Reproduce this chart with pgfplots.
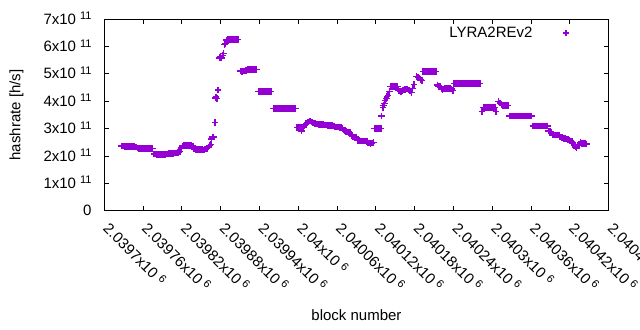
\documentclass[border=0pt]{standalone}
\usepackage{fontspec}
\setmainfont{Liberation Sans}
\usepackage{pgfplots}
\pgfplotsset{compat=1.18}
\usepackage{pgfplotstable}
\definecolor{dv}{HTML}{9400D3}
\newcommand{\sci}[2]{#1x10\hspace{4bp}\raisebox{4.5bp}{\fontsize{11bp}{11bp}\selectfont #2}}
\pgfplotstableread{
x y
2039727 2.36
2039729 2.36
2039731 2.35
2039733 2.34
2039735 2.34
2039737 2.34
2039739 2.34
2039741 2.34
2039743 2.34
2039745 2.34
2039747 2.34
2039749 2.33
2039751 2.29
2039753 2.28
2039755 2.28
2039757 2.28
2039759 2.28
2039761 2.28
2039763 2.28
2039765 2.28
2039767 2.28
2039769 2.28
2039771 2.28
2039773 2.28
2039775 2.28
2039777 2.08
2039779 2.07
2039781 2.06
2039783 2.06
2039785 2.05
2039787 2.05
2039789 2.05
2039791 2.05
2039793 2.06
2039795 2.06
2039797 2.07
2039799 2.09
2039801 2.10
2039803 2.10
2039805 2.10
2039807 2.10
2039809 2.11
2039811 2.11
2039813 2.12
2039815 2.13
2039817 2.16
2039819 2.30
2039821 2.36
2039823 2.38
2039825 2.39
2039827 2.39
2039829 2.39
2039831 2.39
2039833 2.38
2039835 2.38
2039837 2.36
2039839 2.25
2039841 2.24
2039843 2.24
2039845 2.23
2039847 2.23
2039849 2.24
2039851 2.24
2039853 2.22
2039855 2.24
2039857 2.25
2039859 2.28
2039861 2.33
2039863 2.38
2039865 2.43
2039866 2.62
2039867 2.70
2039868 2.70
2039869 2.70
2039871 3.23
2039872 4.12
2039873 4.16
2039874 4.10
2039876 4.41
2039878 5.58
2039879 5.61
2039880 5.62
2039881 5.58
2039883 5.68
2039884 5.75
2039886 6.08
2039887 6.12
2039889 6.25
2039891 6.27
2039893 6.27
2039895 6.27
2039897 6.27
2039899 6.27
2039901 6.27
2039903 6.27
2039905 6.27
2039907 6.27
2039911 5.11
2039913 5.10
2039915 5.11
2039917 5.11
2039919 5.12
2039921 5.16
2039923 5.17
2039925 5.17
2039927 5.17
2039929 5.17
2039931 5.17
2039933 5.17
2039935 5.17
2039938 4.37
2039940 4.37
2039942 4.37
2039944 4.37
2039946 4.37
2039948 4.37
2039950 4.37
2039952 4.37
2039954 4.37
2039956 4.37
2039958 4.37
2039962 3.74
2039964 3.74
2039966 3.74
2039968 3.74
2039970 3.74
2039972 3.74
2039974 3.74
2039976 3.74
2039978 3.74
2039980 3.74
2039982 3.74
2039984 3.74
2039986 3.74
2039988 3.74
2039990 3.74
2039992 3.74
2039994 3.74
2039996 3.74
2039998 3.05
2040000 3.05
2040002 3.05
2040004 3.05
2040005 2.92
2040006 3.05
2040008 3.06
2040010 3.12
2040012 3.18
2040014 3.22
2040016 3.25
2040018 3.28
2040020 3.25
2040022 3.22
2040024 3.21
2040026 3.20
2040028 3.17
2040030 3.17
2040032 3.16
2040034 3.16
2040036 3.15
2040038 3.15
2040040 3.14
2040042 3.14
2040044 3.13
2040046 3.12
2040048 3.12
2040050 3.12
2040052 3.12
2040054 3.10
2040056 3.07
2040058 3.06
2040060 3.06
2040062 3.06
2040064 3.05
2040066 3.04
2040068 3.02
2040070 2.95
2040072 2.92
2040074 2.90
2040076 2.88
2040078 2.88
2040080 2.85
2040082 2.75
2040084 2.72
2040086 2.70
2040088 2.70
2040090 2.68
2040092 2.57
2040094 2.56
2040096 2.55
2040098 2.55
2040100 2.55
2040102 2.55
2040104 2.55
2040106 2.53
2040108 2.48
2040110 2.47
2040112 2.45
2040114 2.47
2040116 2.50
2040118 3.01
2040120 3.01
2040122 3.01
2040124 3.01
2040126 3.01
2040128 3.01
2040129 3.47
2040131 3.78
2040132 3.85
2040133 3.92
2040134 4.02
2040136 4.10
2040137 4.17
2040139 4.22
2040141 4.35
2040143 4.54
2040145 4.54
2040147 4.54
2040149 4.54
2040151 4.54
2040153 4.54
2040155 4.40
2040157 4.38
2040159 4.36
2040161 4.40
2040163 4.42
2040165 4.44
2040167 4.45
2040169 4.45
2040171 4.42
2040173 4.38
2040175 4.33
2040177 4.48
2040179 4.62
2040183 4.90
2040185 4.88
2040187 4.86
2040189 4.80
2040191 4.76
2040193 5.10
2040195 5.10
2040197 5.10
2040199 5.10
2040201 5.10
2040203 5.10
2040205 5.10
2040207 5.10
2040209 5.10
2040211 5.10
2040213 5.10
2040215 4.60
2040217 4.56
2040219 4.55
2040221 4.45
2040223 4.43
2040225 4.45
2040227 4.47
2040229 4.47
2040231 4.48
2040233 4.48
2040235 4.48
2040237 4.45
2040239 4.40
2040241 4.66
2040243 4.66
2040245 4.66
2040247 4.66
2040249 4.66
2040251 4.66
2040253 4.66
2040255 4.66
2040257 4.66
2040259 4.66
2040261 4.66
2040263 4.66
2040265 4.66
2040267 4.66
2040269 4.66
2040271 4.66
2040273 4.66
2040275 4.66
2040277 4.66
2040279 4.66
2040281 4.66
2040284 3.62
2040286 3.78
2040288 3.78
2040290 3.78
2040292 3.78
2040294 3.78
2040296 3.78
2040298 3.78
2040300 3.78
2040302 3.78
2040304 3.78
2040306 3.62
2040310 3.99
2040312 3.94
2040314 3.88
2040316 3.84
2040318 3.84
2040320 3.84
2040322 3.84
2040324 3.84
2040327 3.46
2040329 3.46
2040331 3.46
2040333 3.46
2040335 3.46
2040337 3.46
2040339 3.46
2040341 3.46
2040343 3.46
2040345 3.46
2040347 3.46
2040349 3.46
2040351 3.46
2040353 3.46
2040355 3.46
2040357 3.46
2040359 3.46
2040361 3.46
2040363 3.10
2040365 3.10
2040367 3.10
2040369 3.10
2040371 3.10
2040373 3.10
2040375 3.10
2040377 3.10
2040379 3.10
2040381 3.10
2040383 3.10
2040385 3.10
2040387 2.92
2040389 2.90
2040391 2.88
2040393 2.77
2040395 2.77
2040397 2.77
2040399 2.77
2040401 2.77
2040403 2.77
2040405 2.70
2040407 2.68
2040409 2.67
2040411 2.65
2040413 2.65
2040415 2.62
2040417 2.60
2040419 2.57
2040421 2.55
2040423 2.52
2040425 2.48
2040427 2.40
2040429 2.33
2040430 2.30
2040432 2.40
2040434 2.42
2040436 2.50
2040438 2.45
2040440 2.45
2040442 2.45
2040444 2.45
2040446 2.44
}\hashdata
\begin{document}
\begin{tikzpicture}[font=\fontsize{15bp}{18bp}\selectfont]
\begin{axis}[
  scale only axis, width=504.4bp, height=191.4bp,
  xmin=2039700, xmax=2040480, ymin=0, ymax=7,
  scaled x ticks=false, scaled y ticks=false,
  xtick={2039700,2039760,2039820,2039880,2039940,2040000,2040060,2040120,2040180,2040240,2040300,2040360,2040420,2040480},
  xticklabels={\sci{2.0397}{6},\sci{2.03976}{6},\sci{2.03982}{6},\sci{2.03988}{6},\sci{2.03994}{6},\sci{2.04}{6},\sci{2.04006}{6},\sci{2.04012}{6},\sci{2.04018}{6},\sci{2.04024}{6},\sci{2.0403}{6},\sci{2.04036}{6},\sci{2.04042}{6},\sci{2.04048}{6}},
  ytick={0,1,2,3,4,5,6,7},
  yticklabels={0,\sci{1}{11},\sci{2}{11},\sci{3}{11},\sci{4}{11},\sci{5}{11},\sci{6}{11},\sci{7}{11}},
  tick align=inside, tick pos=both, major tick length=4.5bp,
  axis line style={line width=1bp, black},
  every tick/.style={black, line width=1bp},
  every tick label/.append style={font=\fontsize{15bp}{18bp}\selectfont},
  xticklabel style={inner sep=0pt, xshift=-2bp, yshift=-19bp, rotate=-45, anchor=base west},
  yticklabel style={inner sep=0pt, anchor=base east, xshift=-12.6bp, yshift=-5bp},
  xlabel={block number}, ylabel={hashrate [h/s]},
  every axis x label/.style={at={(axis description cs:0.5,-0.546)}, anchor=center, inner sep=0pt},
  every axis y label/.style={at={(axis description cs:-0.1743,0.5)}, rotate=90, anchor=center, inner sep=0pt},
  legend style={draw=none, fill=none, at={(1,1)}, anchor=north east, xshift=-39bp, yshift=-7.5bp, inner sep=0pt, nodes={inner sep=0pt}, /tikz/every odd column/.append style={column sep=30.4bp}},
  legend plot pos=right, legend cell align=right,
]
\addplot[only marks, mark=+, mark size=3.3bp, color=dv, mark options={line width=1.4bp}] table[x=x, y=y] {\hashdata};
\addlegendentry{LYRA2REv2}
\end{axis}
\pgfresetboundingbox
\useasboundingbox ([shift={(-104.3bp,-119.3bp)}]current axis.south west) rectangle ([shift={(535.7bp,210.7bp)}]current axis.south west);
\end{tikzpicture}
\end{document}
